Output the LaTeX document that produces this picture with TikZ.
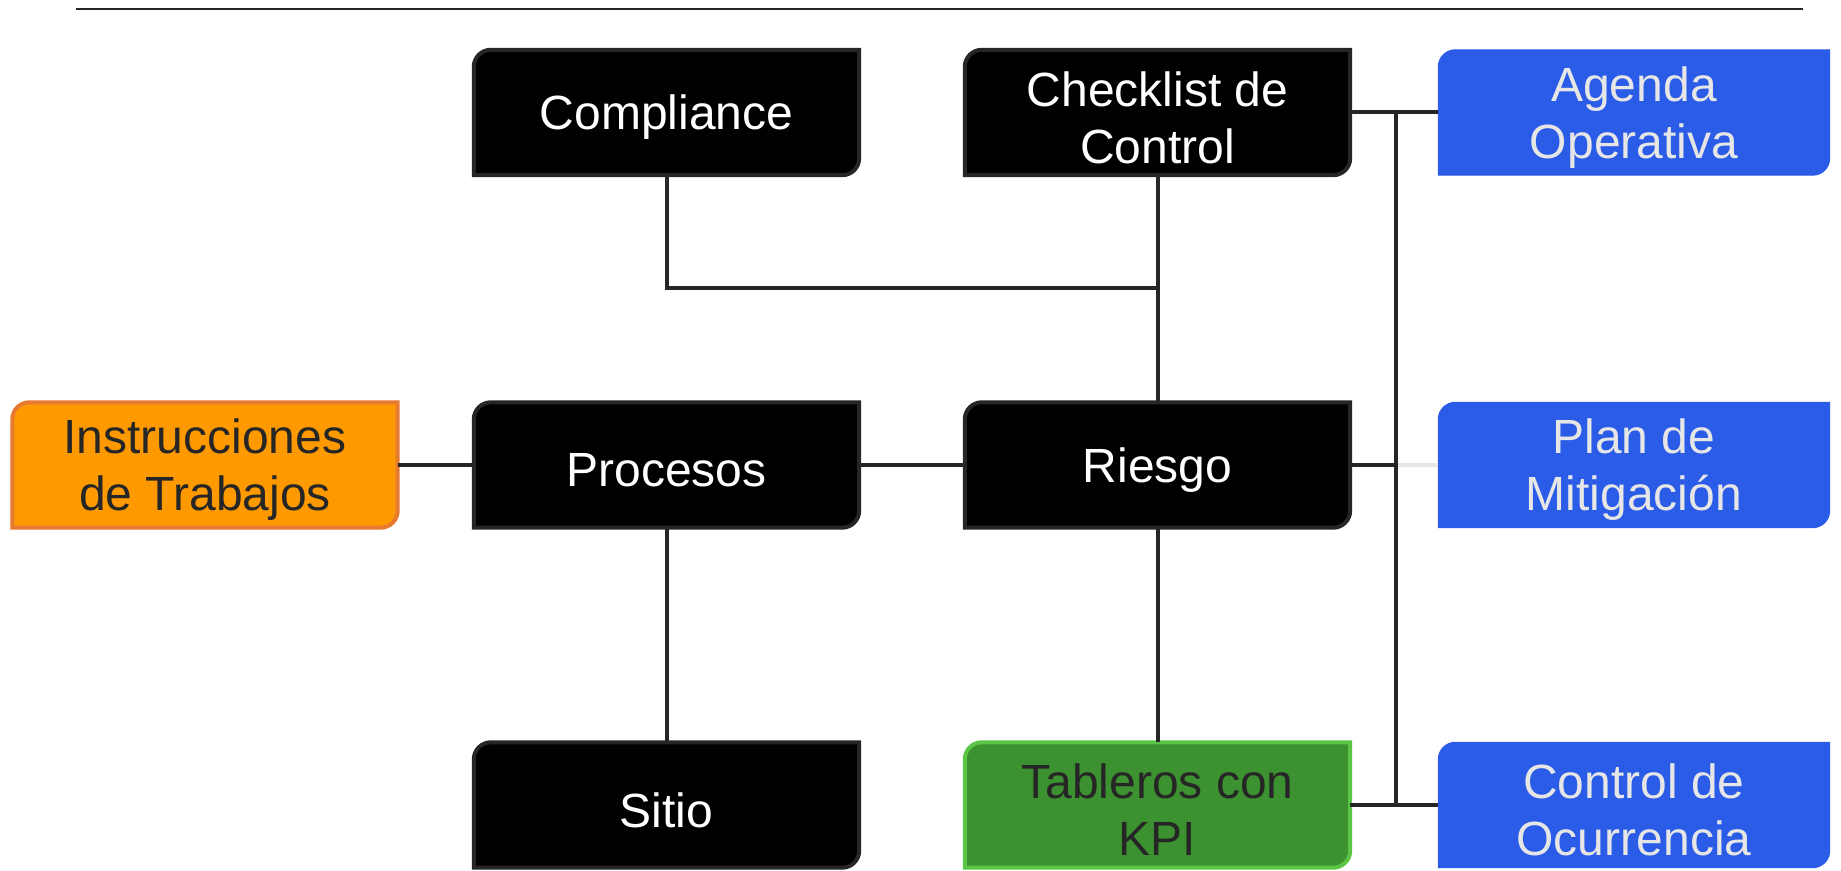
\documentclass[tikz,border=0pt]{standalone}
\usepackage{fontspec}
\setmainfont{Liberation Sans}
\usetikzlibrary{backgrounds}
\definecolor{edge}{HTML}{262626}
\definecolor{bluefill}{HTML}{2B5CE8}
\definecolor{bluetext}{HTML}{E6E6E6}
\definecolor{orangefill}{HTML}{FF9900}
\definecolor{orangeedge}{HTML}{E67A30}
\definecolor{greenfill}{HTML}{3C9130}
\definecolor{greenedge}{HTML}{5BC545}
\definecolor{lightline}{HTML}{E6E6E6}
\tikzset{
  x=1pt, y=1pt,
  boxnode/.style={minimum width=385pt, minimum height=125pt, inner sep=0pt, align=center,
    font=\fontsize{48}{57}\selectfont},
  blackshape/.style={fill=black, draw=edge, line width=4pt},
  blueshape/.style={fill=bluefill, draw=bluefill, line width=1pt},
  orangeshape/.style={fill=orangefill, draw=orangeedge, line width=4pt},
  greenshape/.style={fill=greenfill, draw=greenedge, line width=4pt},
  conn/.style={draw=edge, line width=4pt},
  lightconn/.style={draw=lightline, line width=4pt},
}
\newcommand\tagshape[2]{%
  \begin{scope}[on background layer]
    \path[#2] (#1.south west) -- ([yshift=-17pt]#1.north west)
      arc[start angle=180, end angle=90, radius=17pt] -- (#1.north east)
      -- ([yshift=17pt]#1.south east)
      arc[start angle=0, end angle=-90, radius=17pt] -- cycle;
  \end{scope}}
\newcommand\low[1]{\raisebox{-5pt}[\height][\depth]{#1}}
\begin{document}
\begin{tikzpicture}
\useasboundingbox (0,0) rectangle (1841,870);
\coordinate (tl) at (76,861);
\coordinate (tr) at (1803,861);
\draw[draw=edge, line width=2pt] (tl) -- (tr);

\node[boxnode, text=white] (comp) at (666.5,757.5) {\low{Compliance}};
\node[boxnode, text=white] (check) at (1157.5,757.5) {\low{Checklist de}\\\low{Control}};
\node[boxnode, minimum width=391pt, text=bluetext] (agenda) at (1634,757.5) {\low{Agenda}\\\low{Operativa}};
\node[boxnode, text=edge] (instr) at (205,405) {\low{Instrucciones}\\\low{de Trabajos}};
\node[boxnode, text=white] (proc) at (666.5,405) {\low{Procesos}};
\node[boxnode, text=white] (riesgo) at (1157.5,405) {\low{Riesgo}};
\node[boxnode, minimum width=391pt, text=bluetext] (plan) at (1634,405) {\low{Plan de}\\\low{Mitigación}};
\node[boxnode, text=white] (sitio) at (666.5,65) {\low{Sitio}};
\node[boxnode, text=edge] (tabl) at (1157.5,65) {\low{Tableros con}\\\low{KPI}};
\node[boxnode, minimum width=391pt, text=bluetext] (ocurr) at (1634,65) {\low{Control de}\\\low{Ocurrencia}};

\tagshape{comp}{blackshape}
\tagshape{check}{blackshape}
\tagshape{agenda}{blueshape}
\tagshape{instr}{orangeshape}
\tagshape{proc}{blackshape}
\tagshape{riesgo}{blackshape}
\tagshape{plan}{blueshape}
\tagshape{sitio}{blackshape}
\tagshape{tabl}{greenshape}
\tagshape{ocurr}{blueshape}

\coordinate (bustop) at (1396,758);
\coordinate (busbot) at (1396,64);
\coordinate (join) at (1157.5,582);

\draw[conn] (comp.south) |- (join);
\draw[conn] (check.south) -- (riesgo.north);
\draw[conn] (instr.east) -- (proc.west);
\draw[conn] (proc.east) -- (riesgo.west);
\draw[conn] (proc.south) -- (sitio.north);
\draw[conn] (riesgo.south) -- (tabl.north);
\draw[conn] (bustop) -- (busbot);
\draw[conn] (check.east) -- (agenda.west);
\draw[conn] (riesgo.east) -- (riesgo.east -| bustop);
\draw[lightconn] (plan.west -| bustop) ++(2,0) -- (plan.west);
\draw[conn] (tabl.east) -- (ocurr.west);
\end{tikzpicture}
\end{document}
